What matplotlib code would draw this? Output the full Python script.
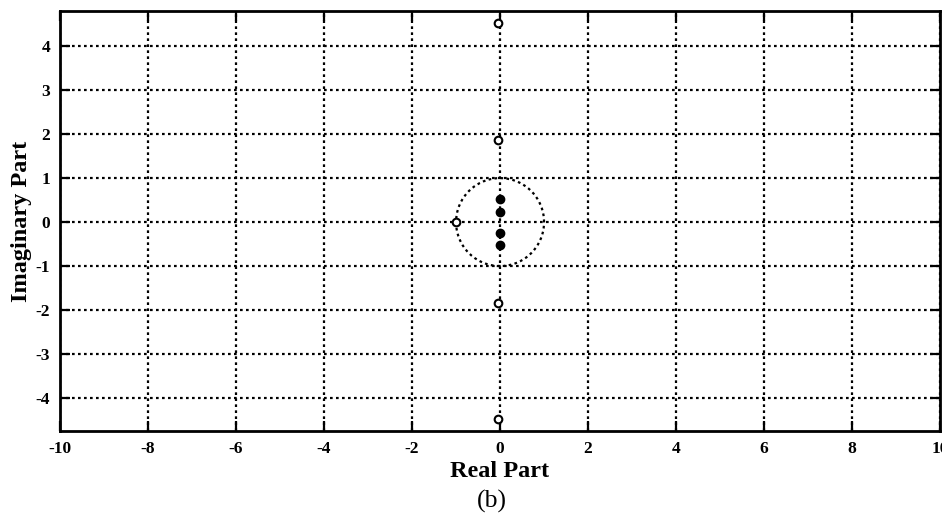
import numpy as np
import matplotlib
matplotlib.use("Agg")
import matplotlib.pyplot as plt
import matplotlib.ticker as ticker

# zeros (open circles) and poles (filled)
zeros_re = [-0.05, -0.05, -0.05, -0.05, -1.0]
zeros_im = [4.52, 1.86, -1.83, -4.47, 0.0]
poles_re = [0.0, 0.0, 0.0, 0.0]
poles_im = [0.53, 0.24, -0.24, -0.53]

x_ticks = [-10, -8, -6, -4, -2, 0, 2, 4, 6, 8, 10]
y_ticks = [-4, -3, -2, -1, 0, 1, 2, 3, 4]

plt.rcParams["font.family"] = ["Liberation Serif", "DejaVu Serif"]
plt.rcParams["axes.unicode_minus"] = False

fig = plt.figure(figsize=(9.42, 5.2), dpi=100)
ax = fig.add_axes([0.0637, 0.171, 0.9343, 0.808])

# unit circle
t = np.linspace(0, 2 * np.pi, 400)
ax.plot(np.cos(t), np.sin(t), color="black", linestyle=(0, (1.2, 1.5)), linewidth=1.6)

ax.plot(zeros_re, zeros_im, linestyle="none", marker="o", markersize=5.5,
        markerfacecolor="white", markeredgecolor="black", markeredgewidth=1.5, zorder=5)
ax.plot(poles_re, poles_im, linestyle="none", marker="o", markersize=6,
        markerfacecolor="black", markeredgecolor="black", zorder=5)

ax.set_xlim(-10, 10)
ax.set_ylim(-4.75, 4.8)
ax.xaxis.set_major_locator(ticker.FixedLocator(x_ticks))
ax.yaxis.set_major_locator(ticker.FixedLocator(y_ticks))

ax.grid(True, color="black", linestyle=(0, (1.2, 1.5)), linewidth=1.6)
ax.set_axisbelow(True)
ax.tick_params(direction="in", length=7, width=1.6, top=True, right=True,
               labelsize=12.5, pad=7)
for lab in ax.get_xticklabels() + ax.get_yticklabels():
    lab.set_fontweight("bold")
for sp in ax.spines.values():
    sp.set_linewidth(2)

ax.set_xlabel("Real Part", fontsize=17.5, fontweight="bold", labelpad=3)
ax.set_ylabel("Imaginary Part", fontsize=17.5, fontweight="bold", labelpad=3)
fig.text(0.522, 0.035, "(b)", fontsize=18.5, ha="center", va="center")

fig.savefig("out.png", dpi=100)
